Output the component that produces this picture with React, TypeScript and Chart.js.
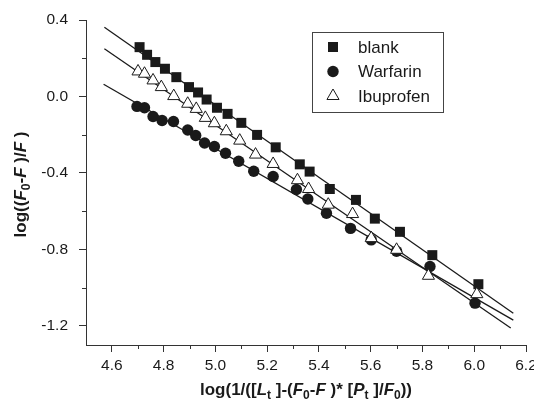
import React, { useEffect, useRef } from 'react';
import { Chart, registerables } from 'chart.js';

Chart.register(...registerables);

const seriesNames = ['blank', 'Warfarin', 'Ibuprofen'];

const blankX = [4.707, 4.736, 4.768, 4.805, 4.849, 4.898, 4.933, 4.966, 5.006, 5.047, 5.100, 5.161, 5.233, 5.326, 5.364, 5.442, 5.543, 5.616, 5.713, 5.838, 6.016];
const blankY = [0.258, 0.218, 0.180, 0.145, 0.101, 0.049, 0.021, -0.016, -0.059, -0.091, -0.138, -0.201, -0.266, -0.355, -0.393, -0.484, -0.541, -0.639, -0.708, -0.830, -0.982];

const warfX = [4.697, 4.726, 4.759, 4.794, 4.838, 4.893, 4.924, 4.958, 4.996, 5.039, 5.090, 5.148, 5.223, 5.313, 5.357, 5.429, 5.522, 5.602, 5.700, 5.829, 6.003];
const warfY = [-0.052, -0.059, -0.105, -0.126, -0.131, -0.175, -0.204, -0.243, -0.262, -0.297, -0.339, -0.391, -0.419, -0.487, -0.536, -0.611, -0.690, -0.750, -0.810, -0.889, -1.081];

const ibuX = [4.701, 4.726, 4.759, 4.791, 4.839, 4.893, 4.926, 4.961, 4.996, 5.042, 5.094, 5.155, 5.223, 5.317, 5.360, 5.436, 5.530, 5.602, 5.700, 5.823, 6.010];
const ibuY = [0.131, 0.119, 0.084, 0.049, 0.002, -0.038, -0.065, -0.112, -0.140, -0.182, -0.231, -0.304, -0.353, -0.438, -0.484, -0.566, -0.615, -0.741, -0.802, -0.938, -1.034];

// fitted regression lines (end points)
const fitBlankX = [4.571, 6.151];
const fitBlankY = [0.362, -1.134];
const fitWarfX = [4.568, 6.151];
const fitWarfY = [0.064, -1.170];
const fitIbuX = [4.571, 6.141];
const fitIbuY = [0.250, -1.211];

const xMin = 4.5, xMax = 6.2, xStep = 0.2;
const yMin = -1.3, yMax = 0.4, yStep = 0.4;

const FAMILY = '"Liberation Sans", Arial, Helvetica, sans-serif';
const INK = '#1a1a1a';
const AXIS = '#333';

type Seg = { t: string; it?: boolean; sub?: boolean };

const xTitle: Seg[] = [
  { t: 'log(1/([' }, { t: 'L', it: true }, { t: 't', sub: true }, { t: ' ]-(' },
  { t: 'F', it: true }, { t: '0', sub: true }, { t: '-' }, { t: 'F', it: true },
  { t: ' )* [' }, { t: 'P', it: true }, { t: 't', sub: true }, { t: ' ]/' },
  { t: 'F', it: true }, { t: '0', sub: true }, { t: '))' },
];
const yTitle: Seg[] = [
  { t: 'log((' }, { t: 'F', it: true }, { t: '0', sub: true }, { t: '-' },
  { t: 'F', it: true }, { t: ' )/' }, { t: 'F', it: true }, { t: ' )' },
];

function drawRich(ctx: CanvasRenderingContext2D, segs: Seg[], size: number) {
  const subSize = Math.round(size * 0.68);
  const fontFor = (s: Seg) => `${s.it ? 'italic ' : ''}bold ${s.sub ? subSize : size}px ${FAMILY}`;
  const widths = segs.map((s) => { ctx.font = fontFor(s); return ctx.measureText(s.t).width; });
  const total = widths.reduce((a, b) => a + b, 0);
  let x = -total / 2;
  ctx.textBaseline = 'middle';
  ctx.textAlign = 'left';
  segs.forEach((s, i) => {
    ctx.font = fontFor(s);
    ctx.fillText(s.t, x, s.sub ? size * 0.32 : 0);
    x += widths[i];
  });
}

function drawMarker(ctx: CanvasRenderingContext2D, kind: string, x: number, y: number) {
  ctx.save();
  ctx.lineWidth = 1;
  ctx.strokeStyle = INK;
  ctx.fillStyle = INK;
  if (kind === 'rect') {
    ctx.fillRect(x - 5, y - 5, 10, 10);
  } else if (kind === 'circle') {
    ctx.beginPath();
    ctx.arc(x, y, 5.7, 0, Math.PI * 2);
    ctx.fill();
  } else {
    const r = 7;
    ctx.fillStyle = '#fff';
    ctx.beginPath();
    ctx.moveTo(x, y - r);
    ctx.lineTo(x + r * Math.sin((2 * Math.PI) / 3), y - r * Math.cos((2 * Math.PI) / 3));
    ctx.lineTo(x + r * Math.sin((4 * Math.PI) / 3), y - r * Math.cos((4 * Math.PI) / 3));
    ctx.closePath();
    ctx.fill();
    ctx.stroke();
  }
  ctx.restore();
}

const decorPlugin = {
  id: 'decor',
  afterDraw(chart: any) {
    const ctx: CanvasRenderingContext2D = chart.ctx;
    const xs = chart.scales.x;
    const ys = chart.scales.y;
    const area = chart.chartArea;
    ctx.save();
    // minor ticks
    ctx.strokeStyle = AXIS;
    ctx.lineWidth = 1;
    const xt = xs.ticks.map((t: any) => t.value);
    for (let i = 0; i < xt.length - 1; i++) {
      const px = Math.round(xs.getPixelForValue((xt[i] + xt[i + 1]) / 2)) + 0.5;
      ctx.beginPath();
      ctx.moveTo(px, area.bottom);
      ctx.lineTo(px, area.bottom + 4);
      ctx.stroke();
    }
    const yt = ys.ticks.map((t: any) => t.value);
    for (let i = 0; i < yt.length - 1; i++) {
      const py = Math.round(ys.getPixelForValue((yt[i] + yt[i + 1]) / 2)) + 0.5;
      ctx.beginPath();
      ctx.moveTo(area.left, py);
      ctx.lineTo(area.left - 4, py);
      ctx.stroke();
    }
    // axis titles
    ctx.fillStyle = INK;
    ctx.save();
    ctx.translate((area.left + area.right) / 2, 390);
    drawRich(ctx, xTitle, 17);
    ctx.restore();
    ctx.save();
    ctx.translate(21, (area.top + area.bottom) / 2 + 2);
    ctx.rotate(-Math.PI / 2);
    drawRich(ctx, yTitle, 17);
    ctx.restore();
    // legend
    const lx = 312, ly = 32, lw = 131, lh = 80;
    ctx.strokeStyle = '#444';
    ctx.lineWidth = 1;
    ctx.strokeRect(lx + 0.5, ly + 0.5, lw, lh);
    const kinds = ['rect', 'circle', 'triangle'];
    ctx.font = `17px ${FAMILY}`;
    ctx.textBaseline = 'middle';
    ctx.textAlign = 'left';
    seriesNames.forEach((name, i) => {
      const cy = ly + 15 + i * 24.5;
      drawMarker(ctx, kinds[i], lx + 21, cy);
      ctx.fillStyle = INK;
      ctx.fillText(name, lx + 46, cy + 1);
    });
    ctx.restore();
  },
};

const pts = (xs: number[], ys: number[]) => xs.map((x, i) => ({ x, y: ys[i] }));

export default function App() {
  const ref = useRef<HTMLCanvasElement>(null);
  useEffect(() => {
    if (!ref.current) return;
    const fitStyle = {
      showLine: true, pointRadius: 0, borderColor: INK, borderWidth: 1.3, fill: false, order: 10,
    };
    const chart = new Chart(ref.current, {
      type: 'scatter',
      data: {
        datasets: [
          { ...fitStyle, label: 'fit-blank', data: pts(fitBlankX, fitBlankY) },
          { ...fitStyle, label: 'fit-warf', data: pts(fitWarfX, fitWarfY) },
          { ...fitStyle, label: 'fit-ibu', data: pts(fitIbuX, fitIbuY) },
          {
            label: seriesNames[0], data: pts(blankX, blankY), pointStyle: 'rect', pointRadius: 7.07,
            backgroundColor: INK, borderColor: INK, borderWidth: 0, order: 3,
          },
          {
            label: seriesNames[1], data: pts(warfX, warfY), pointStyle: 'circle', pointRadius: 5.7,
            backgroundColor: INK, borderColor: INK, borderWidth: 0, order: 2,
          },
          {
            label: seriesNames[2], data: pts(ibuX, ibuY), pointStyle: 'triangle', pointRadius: 7,
            backgroundColor: '#fff', borderColor: INK, borderWidth: 1, order: 1,
          },
        ] as any,
      },
      options: {
        animation: false,
        responsive: false,
        events: [],
        layout: { padding: { top: 20, right: 8, left: 0, bottom: 0 } },
        plugins: { legend: { display: false }, tooltip: { enabled: false } },
        scales: {
          x: {
            type: 'linear',
            min: xMin, max: xMax,
            grid: { display: true, drawOnChartArea: false, drawTicks: true, tickLength: 7, color: AXIS, lineWidth: 1 },
            border: { display: true, color: AXIS, width: 1 },
            ticks: {
              stepSize: xStep, includeBounds: false, padding: 4, color: INK,
              font: { family: FAMILY, size: 15.5 },
              callback: (v: any) => (Math.abs(Number(v)) < 1e-9 ? 0 : Number(v)).toFixed(1),
            },
            afterFit: (s: any) => { s.height = 56; s.paddingLeft = 0; s.paddingRight = 0; },
          },
          y: {
            type: 'linear',
            min: yMin, max: yMax,
            grid: { display: true, drawOnChartArea: false, drawTicks: true, tickLength: 7, color: AXIS, lineWidth: 1 },
            border: { display: true, color: AXIS, width: 1 },
            ticks: {
              stepSize: yStep, includeBounds: false, padding: 11, color: INK,
              font: { family: FAMILY, size: 15.5 },
              callback: (v: any) => (Math.abs(Number(v)) < 1e-9 ? 0 : Number(v)).toFixed(1),
            },
            afterFit: (s: any) => { s.width = 86; s.paddingTop = 0; s.paddingBottom = 0; },
          },
        },
      } as any,
      plugins: [decorPlugin],
    });
    return () => chart.destroy();
  }, []);
  return (
    <div style={{ position: 'fixed', left: 0, top: 0, width: 534, height: 401, background: '#fff' }}>
      <canvas ref={ref} width={534} height={401} style={{ display: 'block' }} />
    </div>
  );
}
